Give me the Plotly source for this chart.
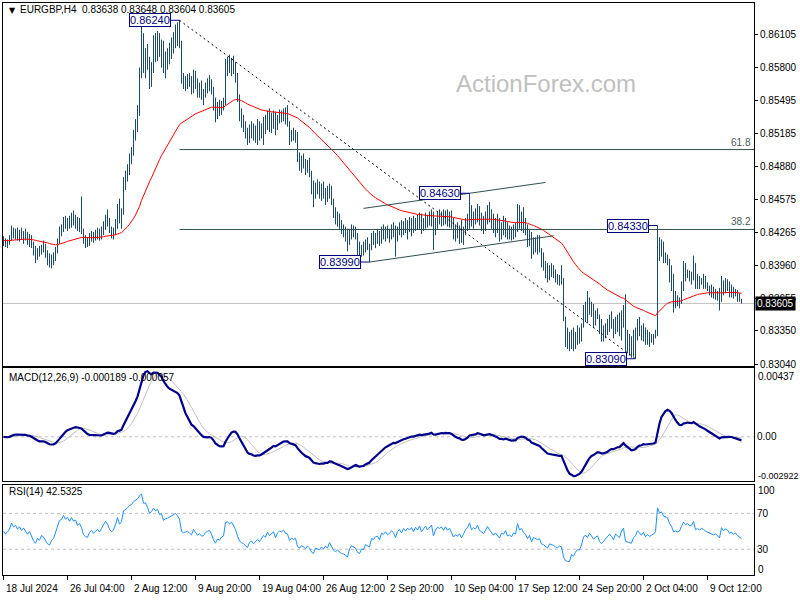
import numpy as np
import pandas as pd
import plotly.graph_objects as go

# ---------------- data (EURGBP H4) ----------------
x_labels = ["18 Jul 2024", "26 Jul 04:00", "2 Aug 12:00", "9 Aug 20:00", "19 Aug 04:00",
            "26 Aug 12:00", "2 Sep 20:00", "10 Sep 04:00", "17 Sep 12:00", "24 Sep 20:00",
            "2 Oct 04:00", "9 Oct 12:00"]
x_label_step = 32

price_ticks = [0.86105, 0.85800, 0.85495, 0.85185, 0.84880, 0.84575, 0.84265,
               0.83960, 0.83655, 0.83350, 0.83040]

first_open = 0.8420
last_open = 0.83638

high = [
 .8423,.8421,.8420,.8424,.8433,.8431,.8430,.8431,.8429,.8431,
 .8428,.8430,.8427,.8425,.8424,.8418,.8414,.8412,.8414,.8415,
 .8419,.8416,.8410,.8407,.8406,.8408,.8413,.8421,.8432,.8434,
 .8441,.8442,.8440,.8442,.8445,.8447,.8443,.8441,.8440,.8460,
 .8429,.8424,.8422,.8426,.8428,.8427,.8429,.8431,.8430,.8432,
 .8437,.8443,.8448,.8440,.8432,.8431,.8439,.8453,.8458,.8449,
 .8478,.8484,.8490,.8500,.8506,.8522,.8532,.8545,.8580,.8618,
 .8612,.8598,.8602,.8590,.8585,.8610,.8612,.8614,.8612,.8606,
 .8605,.8595,.8598,.8603,.8608,.8613,.8620,.8622,.8624,.8605,
 .8575,.8572,.8574,.8575,.8572,.8578,.8577,.8570,.8566,.8568,
 .8560,.8566,.8570,.8573,.8569,.8562,.8552,.8548,.8550,.8549,
 .8552,.8588,.8590,.8592,.8589,.8591,.8585,.8575,.8555,.8542,
 .8536,.8530,.8524,.8527,.8530,.8528,.8526,.8532,.8530,.8528,
 .8534,.8536,.8540,.8542,.8538,.8540,.8539,.8536,.8541,.8540,
 .8542,.8543,.8545,.8530,.8522,.8524,.8522,.8520,.8501,.8498,
 .8500,.8495,.8494,.8496,.8484,.8475,.8473,.8476,.8474,.8472,
 .8474,.8468,.8470,.8472,.8470,.8458,.8450,.8446,.8444,.8438,
 .8434,.8432,.8430,.8430,.8434,.8433,.8432,.8426,.8418,.8415,
 .8418,.8420,.8422,.8416,.8426,.8428,.8426,.8430,.8428,.8432,
 .8434,.8432,.8433,.8430,.8434,.8436,.8433,.8432,.8436,.8438,
 .8437,.8440,.8438,.8441,.8440,.8442,.8440,.8443,.8445,.8444,
 .8440,.8445,.8443,.8446,.8448,.8446,.8440,.8446,.8448,.8446,
 .8448,.8447,.8448,.8446,.8447,.8440,.8434,.8436,.8433,.8438,
 .8432,.8440,.8444,.8463,.8452,.8446,.8449,.8453,.8451,.8445,
 .8442,.8446,.8452,.8455,.8448,.8444,.8440,.8444,.8440,.8436,
 .8442,.8440,.8434,.8433,.8432,.8434,.8436,.8453,.8452,.8446,
 .8450,.8440,.8434,.8430,.8427,.8422,.8422,.8424,.8424,.8412,
 .8408,.8400,.8398,.8396,.8398,.8396,.8392,.8388,.8387,.8396,
 .8384,.8340,.8338,.8334,.8336,.8338,.8334,.8340,.8338,.8342,
 .8359,.8362,.8372,.8366,.8362,.8360,.8354,.8356,.8350,.8346,
 .8340,.8342,.8346,.8350,.8353,.8346,.8348,.8350,.8352,.8354,
 .8359,.8369,.8336,.8332,.8330,.8336,.8338,.8346,.8348,.8340,
 .8342,.8338,.8336,.8334,.8332,.8332,.8336,.8433,.8422,.8420,
 .8418,.8408,.8406,.8402,.8396,.8388,.8372,.8368,.8366,.8381,
 .8400,.8398,.8392,.8391,.8390,.8405,.8392,.8388,.8386,.8384,
 .8388,.8386,.8380,.8377,.8378,.8376,.8374,.8372,.8375,.8386,
 .8382,.8384,.8383,.8381,.8378,.8376,.8374,.8373,.8370,.83648]

low = [
 .8414,.8413,.8412,.8415,.8419,.8421,.8420,.8419,.8418,.8420,
 .8416,.8419,.8415,.8413,.8412,.8405,.8398,.8401,.8404,.8406,
 .8408,.8403,.8396,.8394,.8393,.8396,.8400,.8407,.8416,.8423,
 .8427,.8430,.8428,.8430,.8431,.8433,.8430,.8428,.8427,.8425,
 .8416,.8412,.8413,.8414,.8418,.8417,.8419,.8420,.8419,.8420,
 .8424,.8429,.8432,.8426,.8421,.8420,.8424,.8430,.8435,.8430,
 .8443,.8466,.8474,.8480,.8490,.8498,.8512,.8520,.8535,.8570,
 .8575,.8570,.8578,.8560,.8562,.8575,.8585,.8586,.8590,.8580,
 .8575,.8570,.8578,.8583,.8588,.8593,.8598,.8600,.8598,.8565,
 .8560,.8558,.8560,.8562,.8555,.8556,.8560,.8552,.8552,.8550,
 .8545,.8552,.8556,.8558,.8555,.8540,.8529,.8532,.8535,.8536,
 .8540,.8545,.8572,.8575,.8572,.8574,.8566,.8548,.8530,.8524,
 .8520,.8514,.8508,.8510,.8514,.8512,.8510,.8508,.8512,.8514,
 .8508,.8518,.8522,.8520,.8519,.8523,.8517,.8522,.8528,.8529,
 .8530,.8527,.8525,.8508,.8511,.8512,.8510,.8492,.8484,.8482,
 .8486,.8480,.8482,.8478,.8462,.8450,.8458,.8462,.8458,.8456,
 .8458,.8452,.8455,.8458,.8452,.8440,.8434,.8432,.8430,.8425,
 .8422,.8418,.8409,.8415,.8420,.8422,.8420,.8405,.8402,.8404,
 .8405,.8408,.8410,.8399,.8410,.8415,.8412,.8416,.8414,.8416,
 .8420,.8418,.8421,.8417,.8420,.8422,.8404,.8418,.8424,.8422,
 .8424,.8426,.8420,.8427,.8423,.8426,.8428,.8429,.8430,.8425,
 .8428,.8430,.8431,.8433,.8432,.8410,.8424,.8430,.8434,.8432,
 .8433,.8434,.8432,.8431,.8430,.8420,.8418,.8421,.8416,.8417,
 .8415,.8424,.8428,.8430,.8432,.8430,.8434,.8436,.8433,.8428,
 .8425,.8428,.8434,.8436,.8430,.8426,.8422,.8426,.8418,.8420,
 .8424,.8422,.8420,.8420,.8419,.8420,.8422,.8427,.8430,.8428,
 .8426,.8424,.8413,.8414,.8402,.8406,.8408,.8406,.8408,.8394,
 .8391,.8384,.8380,.8382,.8385,.8384,.8380,.8378,.8377,.8378,
 .8344,.8320,.8318,.8316,.8318,.8316,.8318,.8322,.8323,.8325,
 .8340,.8344,.8342,.8350,.8348,.8338,.8340,.8346,.8332,.8325,
 .8325,.8328,.8331,.8334,.8337,.8328,.8332,.8334,.8330,.8326,
 .8338,.8316,.8314,.8312,.8310,.8311,.8309,.8326,.8330,.8326,
 .8325,.8322,.8322,.8320,.8324,.8322,.8328,.8330,.8400,.8404,
 .8398,.8398,.8396,.8380,.8372,.8352,.8356,.8358,.8356,.8360,
 .8372,.8381,.8384,.8381,.8378,.8382,.8374,.8374,.8374,.8378,
 .8374,.8374,.8372,.8368,.8366,.8365,.8364,.8363,.8354,.8365,
 .8368,.8370,.8372,.8366,.8366,.8365,.8367,.8362,.8362,.83604]

close = [
 .8419,.8416,.8418,.8421,.8429,.8425,.8427,.8423,.8426,.8422,
 .8425,.8421,.8418,.8421,.8414,.8409,.8405,.8410,.8407,.8412,
 .8410,.8406,.8400,.8398,.8402,.8404,.8410,.8418,.8428,.8430,
 .8438,.8434,.8437,.8433,.8440,.8436,.8438,.8432,.8435,.8430,
 .8420,.8417,.8416,.8422,.8425,.8421,.8424,.8426,.8423,.8428,
 .8433,.8438,.8435,.8429,.8426,.8428,.8436,.8448,.8440,.8445,
 .8474,.8479,.8486,.8497,.8502,.8518,.8528,.8540,.8572,.8610,
 .8590,.8594,.8584,.8570,.8580,.8605,.8598,.8608,.8595,.8600,
 .8582,.8590,.8592,.8598,.8605,.8608,.8615,.8610,.8603,.8570,
 .8566,.8568,.8570,.8565,.8560,.8574,.8565,.8558,.8562,.8555,
 .8556,.8563,.8566,.8568,.8560,.8545,.8535,.8543,.8540,.8546,
 .8548,.8582,.8585,.8580,.8586,.8578,.8570,.8552,.8536,.8530,
 .8527,.8518,.8512,.8522,.8525,.8516,.8520,.8524,.8518,.8525,
 .8530,.8526,.8536,.8528,.8533,.8536,.8522,.8532,.8536,.8534,
 .8538,.8531,.8530,.8515,.8519,.8516,.8518,.8496,.8490,.8494,
 .8490,.8484,.8488,.8482,.8468,.8462,.8470,.8468,.8464,.8468,
 .8462,.8466,.8460,.8468,.8456,.8445,.8440,.8442,.8436,.8430,
 .8428,.8424,.8415,.8426,.8430,.8428,.8424,.8410,.8406,.8412,
 .8409,.8416,.8414,.8410,.8422,.8420,.8424,.8425,.8418,.8428,
 .8426,.8430,.8425,.8427,.8431,.8428,.8420,.8429,.8432,.8427,
 .8434,.8430,.8435,.8432,.8436,.8430,.8437,.8433,.8440,.8431,
 .8436,.8441,.8435,.8440,.8444,.8425,.8436,.8442,.8440,.8443,
 .8437,.8444,.8438,.8442,.8434,.8425,.8429,.8426,.8430,.8422,
 .8428,.8436,.8440,.8450,.8438,.8442,.8440,.8448,.8438,.8436,
 .8432,.8440,.8446,.8440,.8436,.8430,.8434,.8430,.8424,.8432,
 .8430,.8436,.8426,.8428,.8424,.8430,.8428,.8448,.8436,.8440,
 .8432,.8428,.8418,.8424,.8408,.8416,.8412,.8410,.8412,.8398,
 .8396,.8390,.8386,.8392,.8390,.8388,.8384,.8382,.8384,.8382,
 .8348,.8326,.8322,.8320,.8330,.8322,.8328,.8332,.8330,.8338,
 .8352,.8356,.8350,.8358,.8352,.8344,.8348,.8350,.8336,.8330,
 .8334,.8338,.8340,.8346,.8342,.8334,.8344,.8340,.8336,.8348,
 .8354,.8322,.8320,.8318,.8316,.8326,.8330,.8340,.8336,.8330,
 .8336,.8326,.8330,.8326,.8328,.8330,.8334,.8420,.8408,.8414,
 .8404,.8402,.8400,.8386,.8378,.8362,.8364,.8362,.8364,.8378,
 .8392,.8386,.8390,.8384,.8386,.8398,.8378,.8382,.8378,.8382,
 .8380,.8376,.8374,.8372,.8370,.8368,.8370,.8366,.8362,.8380,
 .8374,.8378,.8376,.8370,.8372,.8368,.8370,.8366,.8364,.83605]

# swing labels: (bar index, 'H' = high / 'L' = low)
swing_points = [(88, "H"), (233, "H"), (183, "L"), (327, "H"), (316, "L")]
fib_levels = [0.618, 0.382]
channel_lower = [(183, 0.83990), (275, 0.84234)]
channel_upper_anchor = (233, 0.84630)
channel_upper_span = (180, 271)

header_text = "EURGBP,H4  0.83638 0.83648 0.83604 0.83605"
macd_text = "MACD(12,26,9) -0.000189 -0.000057"
rsi_text = "RSI(14) 42.5325"

# ---------------- preparation ----------------
n = min(len(high), len(low), len(close))
c = np.array(close[:n], dtype=float)
o = np.concatenate([[first_open], c[:-1]])
o[-1] = last_open
h = np.maximum.reduce([np.array(high[:n]), o, c])
l = np.minimum.reduce([np.array(low[:n]), o, c])
idx = np.arange(n)


def ema(x, p):
    a = 2.0 / (p + 1)
    out = np.empty_like(x)
    out[0] = x[0]
    for i in range(1, len(x)):
        out[i] = out[i - 1] + a * (x[i] - out[i - 1])
    return out


ma55 = ema(c, 55)
macd = ema(c, 12) - ema(c, 26)
signal = pd.Series(macd).rolling(9, min_periods=1).mean().to_numpy()

d = np.diff(c, prepend=c[0])
g = np.clip(d, 0, None)
ls = np.clip(-d, 0, None)
seed = np.abs(d[1:15]).mean() / 2
ag = np.zeros(n)
al = np.zeros(n)
ag[0] = al[0] = seed
for i in range(1, n):
    ag[i] = (ag[i - 1] * 13 + g[i]) / 14
    al[i] = (al[i - 1] * 13 + ls[i]) / 14
rsi = 100 - 100 / (1 + ag / al)

# ---------------- figure ----------------
W, H = 800, 600
BAR = "#1c4966"
SLATE = "#2F4F4F"
NAVY = "#000080"
FONT = "Liberation Sans, Arial, sans-serif"
XR = [-0.25, 375.25]


def py(p):  # pixel y -> paper
    return 1 - p / H


def pxx(p):  # pixel x -> paper
    return p / W


fig = go.Figure()
fig.add_trace(go.Ohlc(x=idx, open=o, high=h, low=l, close=c,
                      increasing=dict(line=dict(color=BAR, width=1)),
                      decreasing=dict(line=dict(color=BAR, width=1)),
                      tickwidth=0.1, hoverinfo="skip", showlegend=False,
                      xaxis="x", yaxis="y"))
fig.add_trace(go.Scatter(x=idx, y=ma55, mode="lines", line=dict(color="#ff0000", width=1),
                         hoverinfo="skip", showlegend=False, xaxis="x", yaxis="y"))
fig.add_trace(go.Scatter(x=idx, y=signal, mode="lines", line=dict(color="#c0c0c0", width=1),
                         hoverinfo="skip", showlegend=False, xaxis="x2", yaxis="y2"))
fig.add_trace(go.Scatter(x=idx, y=macd, mode="lines", line=dict(color="#00008b", width=2.2),
                         hoverinfo="skip", showlegend=False, xaxis="x2", yaxis="y2"))
fig.add_trace(go.Scatter(x=idx, y=rsi, mode="lines", line=dict(color="#1e90ff", width=1),
                         hoverinfo="skip", showlegend=False, xaxis="x3", yaxis="y3"))

axis_common = dict(showline=True, mirror=True, linecolor="black", linewidth=1,
                   showgrid=False, zeroline=False)
xdom = [pxx(3), pxx(754)]
fig.update_layout(
    width=W, height=H, margin=dict(l=0, r=0, t=0, b=0),
    paper_bgcolor="white", plot_bgcolor="white",
    font=dict(family=FONT, size=10, color="black"),
    xaxis=dict(domain=xdom, range=XR, showticklabels=False, ticks="",
               rangeslider=dict(visible=False), **axis_common),
    yaxis=dict(domain=[py(368), py(3)], range=[0.83021, 0.86401], side="right",
               tickvals=price_ticks, ticktext=[f"{v:.5f}" for v in price_ticks],
               ticks="outside", ticklen=3, tickcolor="black",
               tickfont=dict(family=FONT, size=10, color="black"), **axis_common),
    xaxis2=dict(domain=xdom, range=XR, showticklabels=False, ticks="", anchor="y2", **axis_common),
    yaxis2=dict(domain=[py(483), py(370)], range=[-0.002787, 0.00437], side="right", anchor="x2",
                tickvals=[0], ticktext=["0.00"], ticks="",
                tickfont=dict(family=FONT, size=10, color="black"), **axis_common),
    xaxis3=dict(domain=xdom, range=XR, anchor="y3", showticklabels=False,
                tickvals=[i * x_label_step for i in range(len(x_labels))],
                ticks="outside", ticklen=4, tickcolor="black", **axis_common),
    yaxis3=dict(domain=[py(578), py(487)], range=[1.1, 102.2], side="right", anchor="x3",
                tickvals=[70, 30], ticktext=["70", "30"], ticks="",
                tickfont=dict(family=FONT, size=10, color="black"), **axis_common),
)

shapes = []
# current price line
shapes.append(dict(type="line", xref="x", yref="y", x0=XR[0], x1=XR[1], y0=c[-1], y1=c[-1],
                   line=dict(color="#c0c0c0", width=1), layer="below"))
# swing values
sw = [(i, h[i] if k == "H" else l[i]) for i, k in swing_points]
top_i, top_v = sw[0]
bot_i, bot_v = sw[4]
# fibonacci retracement lines
for lv in fib_levels:
    yv = bot_v + lv * (top_v - bot_v)
    shapes.append(dict(type="line", xref="x", yref="y", x0=top_i, x1=XR[1], y0=yv, y1=yv,
                       line=dict(color=SLATE, width=1)))
# dashed falling trend line
shapes.append(dict(type="line", xref="x", yref="y", x0=top_i, y0=top_v, x1=bot_i, y1=bot_v,
                   line=dict(color="black", width=1, dash="2px,3px")))
# channel
(li0, lv0), (li1, lv1) = channel_lower
slope = (lv1 - lv0) / (li1 - li0)
shapes.append(dict(type="line", xref="x", yref="y", x0=li0, y0=lv0, x1=li1, y1=lv1,
                   line=dict(color=SLATE, width=1)))
ui, uv = channel_upper_anchor
u0, u1 = channel_upper_span
shapes.append(dict(type="line", xref="x", yref="y", x0=u0, y0=uv + slope * (u0 - ui),
                   x1=u1, y1=uv + slope * (u1 - ui), line=dict(color=SLATE, width=1)))
# label connectors
for i, v in sw:
    shapes.append(dict(type="line", xref="x", yref="y", x0=i - 4.5, x1=i, y0=v, y1=v,
                       line=dict(color=NAVY, width=1)))
# indicator levels
shapes.append(dict(type="line", xref="x2", yref="y2", x0=XR[0], x1=XR[1], y0=0, y1=0,
                   line=dict(color="#c0c0c0", width=1, dash="3px,3px"), layer="below"))
for lv in (70, 30):
    shapes.append(dict(type="line", xref="x3", yref="y3", x0=XR[0], x1=XR[1], y0=lv, y1=lv,
                       line=dict(color="#c0c0c0", width=1, dash="3px,3px"), layer="below"))
fig.update_layout(shapes=shapes)

ann = []
for i, v in sw:
    ann.append(dict(xref="x", yref="y", x=i - 4.5, y=v, xanchor="right", yanchor="middle",
                    text=f"{v:.5f}", showarrow=False, bgcolor="white", bordercolor=NAVY,
                    borderwidth=1, borderpad=0, font=dict(family=FONT, size=11, color=NAVY)))
for lv in fib_levels:
    yv = bot_v + lv * (top_v - bot_v)
    ann.append(dict(xref="paper", yref="y", x=pxx(753), y=yv, xanchor="right", yanchor="bottom",
                    text=f"{lv*100:.1f}", showarrow=False,
                    font=dict(family=FONT, size=10, color="#4a5a5a")))
# current price box
ann.append(dict(xref="paper", yref="y", x=pxx(755), y=c[-1], xanchor="left", yanchor="middle",
                text=f"{c[-1]:.5f}", showarrow=False, bgcolor="black", borderpad=1,
                font=dict(family=FONT, size=10, color="white")))
# header / labels
ann.append(dict(xref="paper", yref="paper", x=pxx(7), y=py(11), xanchor="left", yanchor="middle",
                text="▼", showarrow=False, font=dict(family="DejaVu Sans", size=8, color="black")))
ann.append(dict(xref="paper", yref="paper", x=pxx(18), y=py(10), xanchor="left", yanchor="middle",
                text=header_text, showarrow=False, font=dict(family=FONT, size=10, color="black")))
ann.append(dict(xref="paper", yref="paper", x=pxx(546), y=py(84), xanchor="center", yanchor="middle",
                text="ActionForex.com", showarrow=False,
                font=dict(family="Liberation Sans, Arial", size=24, color="#c0c0c0")))
ann.append(dict(xref="paper", yref="paper", x=pxx(7), y=py(379), xanchor="left", yanchor="middle",
                text=macd_text, showarrow=False, font=dict(family=FONT, size=10, color="black")))
ann.append(dict(xref="paper", yref="paper", x=pxx(7), y=py(494), xanchor="left", yanchor="middle",
                text=rsi_text, showarrow=False, font=dict(family=FONT, size=10, color="black")))
for txt, yy, fs in (("0.00437", 378, 10), ("-0.002922", 478, 9), ("100", 493, 10), ("0", 572, 10)):
    ann.append(dict(xref="paper", yref="paper", x=pxx(756), y=py(yy), xanchor="left",
                    yanchor="middle", text=txt, showarrow=False,
                    font=dict(family=FONT, size=fs, color="black")))
for k, txt in enumerate(x_labels):
    ann.append(dict(xref="x3", yref="paper", x=k * x_label_step, y=py(591), xanchor="left",
                    yanchor="middle", text=txt, showarrow=False,
                    font=dict(family=FONT, size=10, color="black")))
fig.update_layout(annotations=ann)

fig.write_html("out.html", config={"displayModeBar": False},
               post_script="document.body.style.margin='0';"
                           "document.body.style.overflow='hidden';")
